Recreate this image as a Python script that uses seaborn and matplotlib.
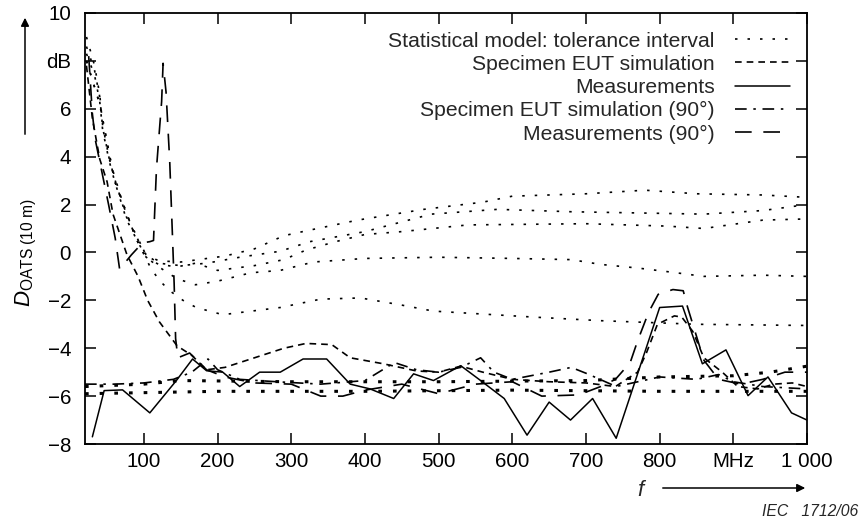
import seaborn as sns
import matplotlib.pyplot as plt
from matplotlib.lines import Line2D

# values: frequency in MHz, D_OATS in dB
tol_f1 = [22, 33, 40, 44, 53, 60, 76, 89, 103, 120, 150, 210, 250, 290, 320, 390, 480, 560, 600, 700, 780, 850, 940, 1000]
tol_d1 = [9.0, 7.8, 6.6, 5.3, 3.9, 3.2, 1.6, 0.75, -0.1, -0.35, -0.4, -0.15, 0.15, 0.7, 0.9, 1.35, 1.8, 2.1, 2.35, 2.45, 2.6, 2.45, 2.4, 2.3]
tol_f2 = [22, 33, 40, 44, 53, 60, 76, 89, 103, 120, 150, 185, 230, 285, 325, 400, 490, 580, 680, 770, 860, 940, 1000]
tol_d2 = [8.6, 7.6, 6.5, 5.2, 3.9, 3.1, 1.5, 0.7, -0.1, -0.45, -0.55, -0.45, -0.2, 0.05, 0.45, 0.87, 1.6, 1.8, 1.7, 1.65, 1.6, 1.75, 2.0]
tol_f3 = [22, 33, 40, 44, 53, 60, 76, 89, 103, 120, 145, 170, 200, 250, 290, 320, 360, 400, 450, 540, 700, 810, 860, 940, 1000]
tol_d3 = [8.3, 7.4, 6.3, 5.1, 3.8, 3.0, 1.4, 0.6, -0.2, -0.5, -0.6, -0.45, -0.75, -0.55, -0.3, 0.1, 0.45, 0.75, 0.87, 1.15, 1.2, 1.1, 1.0, 1.35, 1.4]
tol_f4 = [22, 40, 60, 89, 103, 120, 145, 170, 200, 245, 285, 330, 400, 500, 600, 680, 720, 770, 810, 860, 940, 1000]
tol_d4 = [8.0, 6.2, 3.0, 0.6, -0.2, -0.6, -1.1, -1.35, -1.2, -0.85, -0.75, -0.4, -0.25, -0.2, -0.25, -0.3, -0.5, -0.65, -0.8, -1.0, -0.95, -1.0]
tol_f5 = [22, 40, 60, 89, 110, 122, 135, 153, 171, 207, 285, 340, 394, 450, 493, 629, 720, 850, 1000]
tol_d5 = [8.0, 6.2, 3.0, 0.6, -0.7, -1.2, -1.6, -2.0, -2.3, -2.6, -2.3, -1.95, -1.9, -2.2, -2.45, -2.7, -2.85, -3.0, -3.05]
low_f1 = [20, 100, 150, 300, 500, 700, 800, 900, 950, 1000]
low_d1 = [-5.6, -5.5, -5.35, -5.4, -5.4, -5.35, -5.2, -5.15, -5.0, -4.75]
low_f2 = [20, 200, 400, 600, 800, 1000]
low_d2 = [-5.9, -5.8, -5.8, -5.75, -5.8, -5.8]

sim_f = [22, 30, 40, 50, 58, 77, 92, 105, 121, 145, 165, 185, 210, 230, 260, 290, 320, 355, 380, 425, 470,
         500, 530, 560, 600, 650, 700, 740, 770, 782, 797, 820, 830, 845, 860, 885, 906, 933, 955, 980, 1000]
sim_d = [7.8, 5.6, 3.9, 2.95, 1.6, -0.1, -1.0, -2.0, -2.9, -3.9, -4.3, -4.9, -4.8, -4.6, -4.3, -4.0, -3.8, -3.85, -4.4, -4.65, -4.95,
         -5.0, -4.75, -5.0, -5.3, -5.4, -5.45, -5.6, -5.0, -4.2, -3.0, -2.65, -2.7, -3.3, -4.4, -5.0, -5.6, -5.7, -5.5, -5.45, -5.6]

meas_f = [30, 46, 71, 108, 144, 166, 185, 207, 230, 257, 285, 316, 348, 380, 407, 439, 466, 493, 530, 557, 589,
          620, 650, 679, 709, 741, 800, 831, 858, 890, 920, 947, 979, 1000]
meas_d = [-7.7, -5.77, -5.74, -6.7, -5.35, -4.45, -4.94, -5.0, -5.6, -5.0, -5.0, -4.45, -4.45, -5.5, -5.7, -6.1, -5.07, -5.35, -4.73, -5.35, -6.1,
          -7.63, -6.25, -7.0, -6.1, -7.76, -2.3, -2.24, -4.65, -4.07, -5.98, -5.2, -6.7, -7.0]

sim90_f = [20, 60, 100, 140, 165, 187, 200, 230, 280, 340, 400, 440, 470, 500, 530, 557, 575, 600, 650, 680, 702,
           741, 800, 850, 880, 900, 940, 1000]
sim90_d = [-5.5, -5.5, -5.45, -5.3, -5.0, -4.45, -4.9, -5.3, -5.4, -5.5, -5.35, -4.6, -4.9, -5.0, -4.8, -4.4, -5.0, -5.3, -5.0, -4.8, -5.07,
           -5.6, -5.2, -5.3, -5.1, -5.4, -5.6, -5.7]

meas90_f = [25, 30, 34, 42, 52, 61, 67, 75, 83, 98, 108, 113, 117, 124, 126, 130, 135, 139, 141, 143, 146, 162, 185, 210,
            250, 300, 340, 370, 400, 450, 500, 550, 600, 640, 690, 720, 740, 760, 770, 785, 798, 818, 832, 838, 848, 860,
            880, 910, 940, 970, 1000]
meas90_d = [8.2, 5.8, 4.7, 3.5, 2.0, 0.6, -0.7, -0.4, -0.1, 0.4, 0.45, 0.5, 3.5, 6.3, 7.9, 6.7, 3.8, 0.45, -1.3, -3.6, -4.4, -4.2, -4.9, -5.2,
            -5.45, -5.5, -6.0, -6.0, -5.75, -5.5, -5.9, -5.5, -5.4, -6.0, -5.95, -5.6, -5.3, -4.6, -3.7, -2.5, -1.75, -1.55, -1.6, -2.3, -3.3, -4.5,
            -5.3, -5.5, -5.3, -5.0, -5.0]

legend_labels = ['Statistical model: tolerance interval', 'Specimen EUT simulation', 'Measurements',
                 'Specimen EUT simulation (90°)', 'Measurements (90°)']

styles = {
    'tol': dict(lw=1.2, linestyle=(0, (1.5, 6))),
    'low': dict(lw=2.2, linestyle=(0, (1.2, 3.6))),
    'sim': dict(lw=1.2, linestyle=(0, (4, 3))),
    'meas': dict(lw=1.1, linestyle='-'),
    'sim90': dict(lw=1.2, linestyle=(0, (7, 4, 1.5, 4))),
    'meas90': dict(lw=1.2, linestyle=(0, (10, 7))),
}

curves = [
    (tol_f1, tol_d1, 'tol'), (tol_f2, tol_d2, 'tol'), (tol_f3, tol_d3, 'tol'),
    (tol_f4, tol_d4, 'tol'), (tol_f5, tol_d5, 'tol'),
    (low_f1, low_d1, 'low'), (low_f2, low_d2, 'low'),
    (sim_f, sim_d, 'sim'), (meas_f, meas_d, 'meas'),
    (sim90_f, sim90_d, 'sim90'), (meas90_f, meas90_d, 'meas90'),
]

sns.set_theme(style='ticks')
plt.rcParams['font.family'] = ['Liberation Sans', 'DejaVu Sans']
plt.rcParams['mathtext.fontset'] = 'custom'
plt.rcParams['mathtext.rm'] = 'Liberation Sans'
plt.rcParams['mathtext.it'] = 'Liberation Sans:italic'

fig = plt.figure(figsize=(8.6, 5.2), dpi=100)
ax = fig.add_axes([85 / 860, 76 / 520, 722 / 860, 431 / 520])

for f, d, key in curves:
    sns.lineplot(x=f, y=d, ax=ax, color='black', estimator=None, legend=False, **styles[key])

ax.set_xlim(20, 1000)
ax.set_ylim(-8, 10)
ax.set_xticks(range(100, 1001, 100))
ax.set_xticklabels(['100', '200', '300', '400', '500', '600', '700', '800', 'MHz', '1 000'])
ax.set_yticks(range(-8, 11, 2))
ax.set_yticklabels(['\u22128', '\u22126', '\u22124', '\u22122', '0', '2', '4', '6', 'dB', '10'])
ax.tick_params(axis='both', direction='in', length=8, width=1.1, color='black',
               labelcolor='black', labelsize=14.8, top=True, right=True)
ax.tick_params(axis='x', pad=6)
ax.tick_params(axis='y', pad=10)
for sp in ax.spines.values():
    sp.set_color('black')
    sp.set_linewidth(1.3)

ax.set_ylabel(r'$D_{\mathrm{OATS\ (10\ m)}}$', fontsize=16, color='black')
ax.yaxis.set_label_coords(-0.064, 0.445)
ax.set_xlabel('')

handles = [Line2D([], [], color='black', **styles[k]) for k in ['tol', 'sim', 'meas', 'sim90', 'meas90']]
ax.legend(handles, legend_labels, loc='upper right', bbox_to_anchor=(0.976, 0.957), markerfirst=False,
          frameon=False, fontsize=15.2, handlelength=2.6, handletextpad=0.95, labelspacing=0.2,
          borderpad=0, borderaxespad=0)

# axis arrows
ax.annotate('', xy=(25, 505), xytext=(25, 383), xycoords='figure pixels', textcoords='figure pixels',
            arrowprops=dict(arrowstyle='-|>', lw=1.1, color='black', mutation_scale=12))
ax.annotate('', xy=(808, 32), xytext=(660, 32), xycoords='figure pixels', textcoords='figure pixels',
            arrowprops=dict(arrowstyle='-|>', lw=1.1, color='black', mutation_scale=12))
fig.text(640 / 860, 1 - 490 / 520, 'f', style='italic', fontsize=16, ha='center', va='center')
fig.text(858 / 860, 1 - 511 / 520, 'IEC   1712/06', style='italic', fontsize=11.3, ha='right', va='center')

fig.savefig('out.png', dpi=100)
